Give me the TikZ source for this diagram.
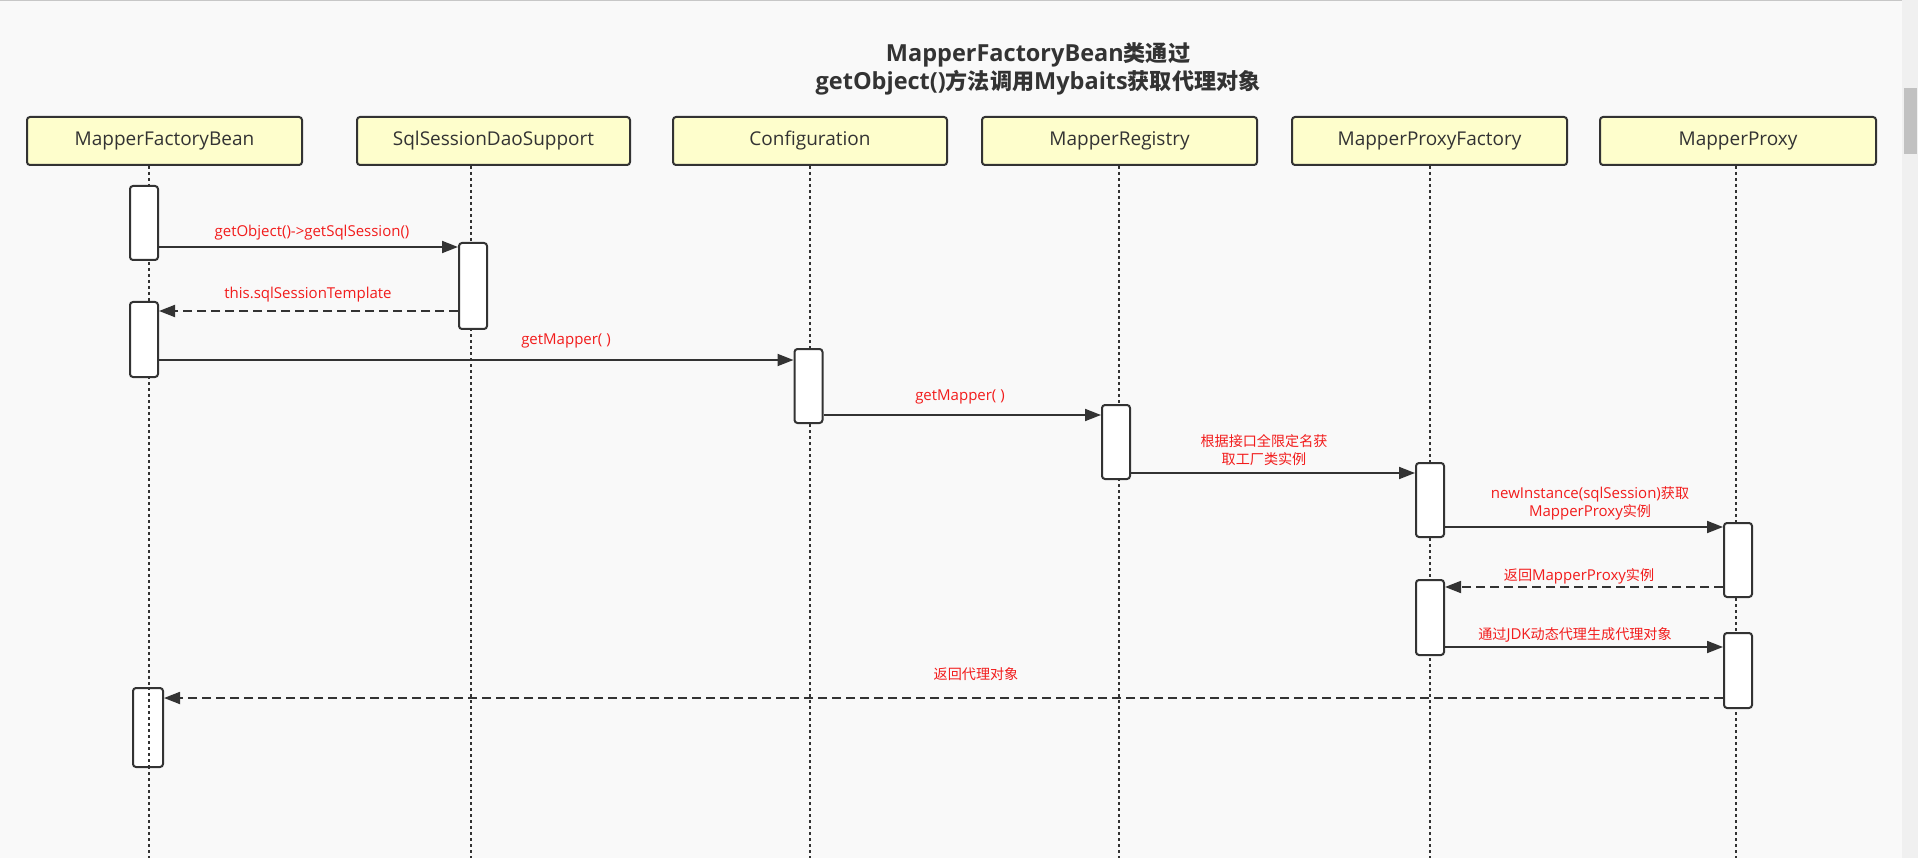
\documentclass[tikz,border=0pt]{standalone}
\usepackage{fontspec}
\setmainfont{Open Sans}
\newfontfamily\cjk{Noto Sans CJK SC}[Scale=0.94]
\usetikzlibrary{arrows.meta}
\definecolor{bg}{HTML}{F9F9F9}
\definecolor{ink}{HTML}{333333}
\definecolor{hdr}{HTML}{FEFECC}
\definecolor{lbl}{HTML}{F21C1C}
\definecolor{sbar}{HTML}{F0F0F0}
\definecolor{thumb}{HTML}{C1C1C1}
\begin{document}
\begin{tikzpicture}[x=1pt,y=-1pt,
  hdrbox/.style={draw=ink, line width=2pt, fill=hdr, rounded corners=3pt,
    minimum width=275pt, minimum height=48pt, inner sep=0pt,
    font=\fontsize{19}{23}\selectfont, text=ink},
  actbox/.style={draw=ink, line width=2pt, fill=white, rounded corners=3pt,
    minimum width=28pt, inner sep=0pt},
  life/.style={draw=ink, line width=1.5pt, dash pattern=on 3pt off 3pt},
  msg/.style={draw=ink, line width=1.8pt, -{Triangle[length=16pt,width=12pt]}},
  ret/.style={msg, dash pattern=on 9pt off 5pt},
  lab/.style={text=lbl, font=\fontsize{15}{18}\selectfont, align=center, inner sep=0pt}
]
\useasboundingbox (0,0) rectangle (1918,858);
\fill[bg] (0,0) rectangle (1918,858);
\fill[sbar] (1902,0) rectangle (1918,858);
\fill[thumb] (1904,88) rectangle (1917,154);
\draw[black!22, line width=1pt] (0,0.5) -- (1902,0.5);

% title
\node[text=ink, font=\fontsize{23.5}{28}\selectfont\bfseries, align=center] (title) at (1038,69)
  {MapperFactoryBean{\cjk 类通过}\\getObject(){\cjk 方法调用}Mybaits{\cjk 获取代理对象}};

% headers
\node[hdrbox] (h1) at (164.5,141) {MapperFactoryBean};
\node[hdrbox, minimum width=273pt] (h2) at (493.5,141) {SqlSessionDaoSupport};
\node[hdrbox, minimum width=274pt] (h3) at (810,141) {Configuration};
\node[hdrbox] (h4) at (1119.5,141) {MapperRegistry};
\node[hdrbox] (h5) at (1429.5,141) {MapperProxyFactory};
\node[hdrbox, minimum width=276pt] (h6) at (1738,141) {MapperProxy};

% lifeline ends
\coordinate (e1) at (149,858);
\coordinate (e2) at (471,858);
\coordinate (e3) at (810,858);
\coordinate (e4) at (1119,858);
\coordinate (e5) at (1430,858);
\coordinate (e6) at (1736,858);
\draw[life] (h1.south -| e1) -- (e1);
\draw[life] (h2.south -| e2) -- (e2);
\draw[life] (h3.south -| e3) -- (e3);
\draw[life] (h4.south -| e4) -- (e4);
\draw[life] (h5.south -| e5) -- (e5);
\draw[life] (h6.south -| e6) -- (e6);

% activations
\node[actbox, minimum height=74pt] (f1) at (144,223) {};
\node[actbox, minimum height=86pt] (s1) at (473,286) {};
\node[actbox, minimum height=75pt] (f2) at (144,339.5) {};
\node[actbox, minimum height=74pt] (c1) at (808.5,386) {};
\node[actbox, minimum height=74pt] (r1) at (1116,442) {};
\node[actbox, minimum height=74pt] (p1) at (1430,500) {};
\node[actbox, minimum height=74pt] (x1) at (1738,560) {};
\node[actbox, minimum height=75pt] (p2) at (1430,617.5) {};
\node[actbox, minimum height=75pt] (x2) at (1738,670.5) {};
\node[actbox, minimum height=79pt, minimum width=30pt] (f3) at (148,727.5) {};
\draw[life] (f3.north -| e1) -- (f3.south -| e1);

% message rows
\coordinate (y1) at (0,247);
\coordinate (y2) at (0,311);
\coordinate (y3) at (0,360);
\coordinate (y4) at (0,415);
\coordinate (y5) at (0,473);
\coordinate (y6) at (0,527);
\coordinate (y7) at (0,587);
\coordinate (y8) at (0,647);
\coordinate (y9) at (0,698);

\draw[msg] (f1.east |- y1) -- (s1.west |- y1);
\draw[ret] (s1.west |- y2) -- (f2.east |- y2);
\draw[msg] (f2.east |- y3) -- (c1.west |- y3);
\draw[msg] (c1.east |- y4) -- (r1.west |- y4);
\draw[msg] (r1.east |- y5) -- (p1.west |- y5);
\draw[msg] (p1.east |- y6) -- (x1.west |- y6);
\draw[ret] (x1.west |- y7) -- (p2.east |- y7);
\draw[msg] (p2.east |- y8) -- (x2.west |- y8);
\draw[ret] (x2.west |- y9) -- (f3.east |- y9);

% labels
\node[lab] (l1) at (312,233) {getObject()->getSqlSession()};
\node[lab] (l2) at (308,295) {this.sqlSessionTemplate};
\node[lab] (l3) at (566,341) {getMapper( )};
\node[lab] (l4) at (960,397) {getMapper( )};
\node[lab] (l5) at (1264,450.5) {\cjk 根据接口全限定名获\\\cjk 取工厂类实例};
\node[lab] (l6) at (1590,503) {newInstance(sqlSession){\cjk 获取}\\MapperProxy{\cjk 实例}};
\node[lab] (l7) at (1579,576) {{\cjk 返回}MapperProxy{\cjk 实例}};
\node[lab] (l8) at (1575,635) {{\cjk 通过}JDK{\cjk 动态代理生成代理对象}};
\node[lab] (l9) at (976,674) {\cjk 返回代理对象};
\end{tikzpicture}
\end{document}
